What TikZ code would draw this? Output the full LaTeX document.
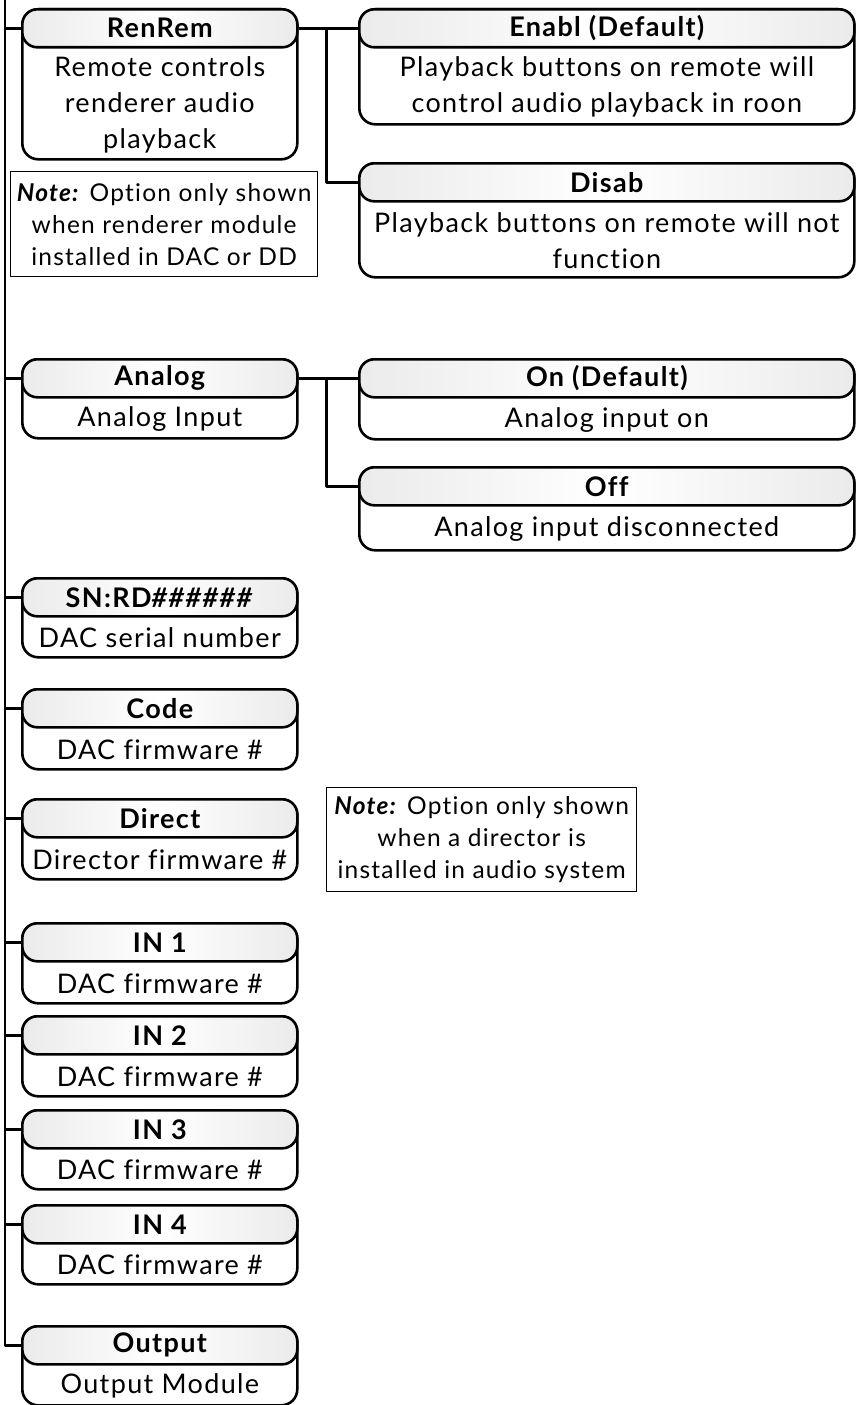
\documentclass[tikz,border=0pt]{standalone}
\usepackage{fontspec}
\setmainfont{Lato}[LetterSpace=5, Ligatures=NoCommon]
\usetikzlibrary{calc}
\begin{document}
\begin{tikzpicture}[x=1pt,y=-1pt, line join=round,
  outer/.style={draw, line width=2.6pt, rounded corners=16pt, fill=white, inner sep=0pt},
  head/.style={draw, line width=2.6pt, rounded corners=15pt, inner sep=0pt,
    left color=gray!16, right color=gray!16, middle color=white,
    font=\bfseries\fontsize{27}{30}\selectfont},
  bodytext/.style={align=center, font=\fontsize{27}{36}\selectfont, inner sep=0pt},
  notebox/.style={draw, line width=1.3pt, align=center, inner sep=0pt,
    font=\fontsize{24.5}{32}\selectfont},
  conn/.style={line width=2.6pt}]
\useasboundingbox (0,0) rectangle (855,1405);
\newcommand\optbox[7]{%
  \node[outer, minimum width=#4pt, minimum height=#5pt, anchor=north west] (#1) at (#2,#3) {};
  \node[head, minimum width=#4pt, minimum height=38pt, anchor=north west] (#1h) at (#2,#3) {#6};
  \node[bodytext] (#1b) at ($(#1h.south)!0.5!(#1.south)$) {#7};
}
% left column
\optbox{renrem}{21}{8}{275}{150}{RenRem}{Remote controls\\renderer audio\\playback}
\optbox{analog}{21}{358}{275}{79}{Analog}{Analog Input}
\optbox{sn}{21}{577}{275}{79}{SN:RD\textit{\#\#\#\#\#\#}}{DAC serial number}
\optbox{code}{21}{688}{275}{80}{Code}{DAC firmware \#}
\optbox{direct}{21}{798}{275}{80}{Direct}{Director firmware \#}
\optbox{inone}{21}{922}{275}{80}{IN 1}{DAC firmware \#}
\optbox{intwo}{21}{1015}{275}{80}{IN 2}{DAC firmware \#}
\optbox{inthree}{21}{1109}{275}{79}{IN 3}{DAC firmware \#}
\optbox{infour}{21}{1204}{275}{79}{IN 4}{DAC firmware \#}
\optbox{out}{21}{1325}{275}{79}{Output}{Output Module}
% right column
\optbox{enabl}{358}{8}{495}{115}{Enabl (Default)}{Playback buttons on remote will\\control audio playback in roon}
\optbox{disab}{358}{162}{495}{114}{Disab}{Playback buttons on remote will not\\function}
\optbox{on}{358}{358}{495}{80}{On (Default)}{Analog input on}
\optbox{off}{358}{466}{495}{83}{Off}{Analog input disconnected}
% notes
\node[notebox, minimum width=307pt, minimum height=105pt, anchor=north west] (noteA) at (10,171)
  {\textbf{\textit{Note:}} Option only shown\\when renderer module\\installed in DAC or DD};
\node[notebox, minimum width=310pt, minimum height=104pt, anchor=north west] (noteB) at (326,787)
  {\textbf{\textit{Note:}} Option only shown\\when a director is\\installed in audio system};
% trunk
\coordinate (ttop) at (5,0);
\coordinate (tbot) at (ttop |- outh.west);
\draw[conn] (ttop) -- (tbot) -- (outh.west);
\foreach \b in {renrem,analog,sn,code,direct,inone,intwo,inthree,infour}
  \draw[conn] (ttop |- \b h.west) -- (\b h.west);
% branches
\coordinate (jA) at ($(renremh.east)!0.47!(enablh.west)$);
\draw[conn] (renremh.east) -- (enablh.west);
\draw[conn] (jA) |- (disabh.west);
\coordinate (jB) at ($(analogh.east)!0.47!(onh.west)$);
\draw[conn] (analogh.east) -- (onh.west);
\draw[conn] (jB) |- (offh.west);
\end{tikzpicture}
\end{document}
